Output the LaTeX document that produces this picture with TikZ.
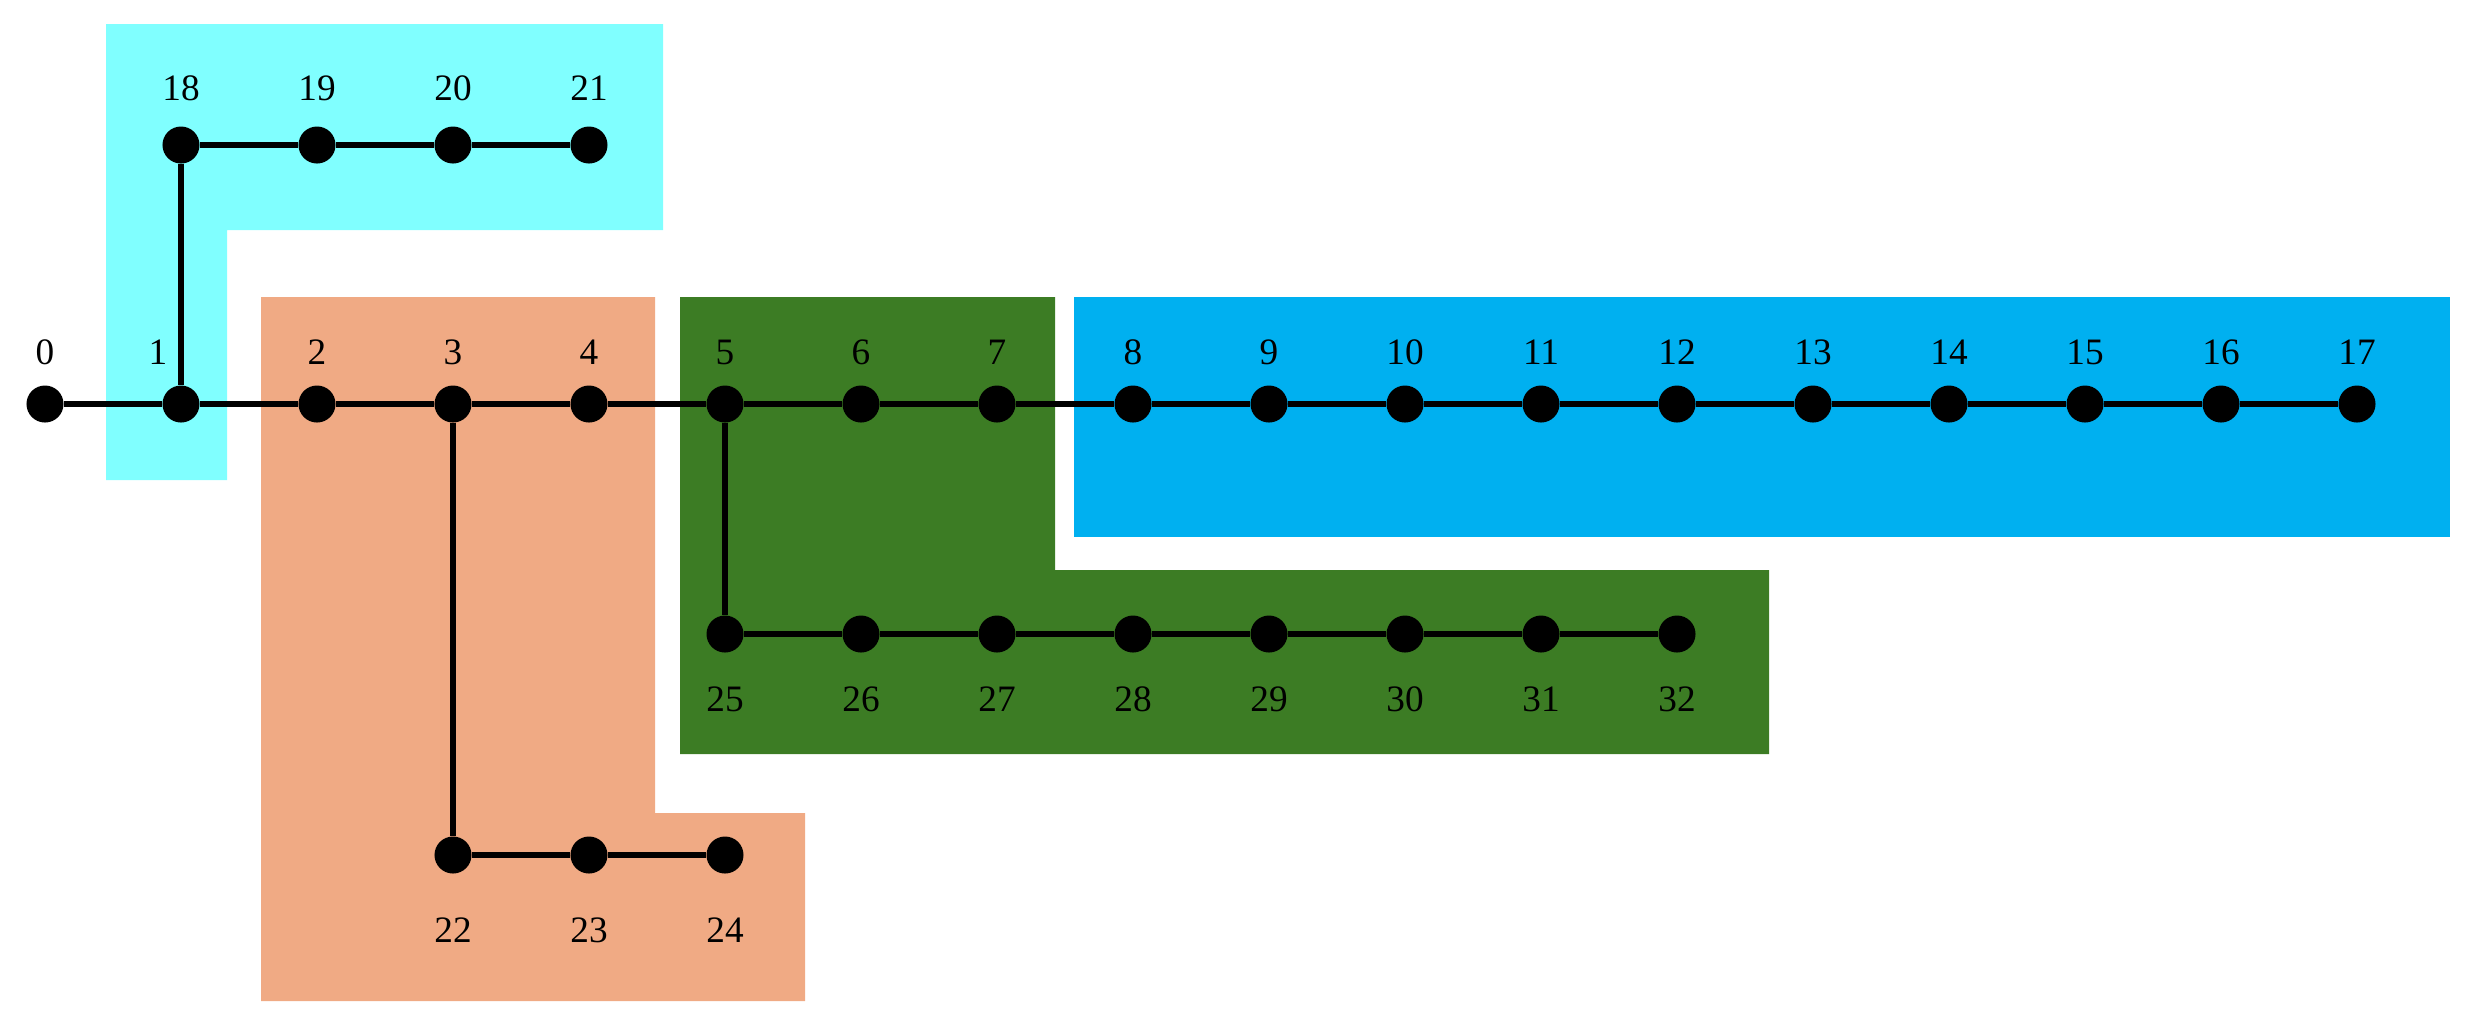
\documentclass[tikz,border=0pt]{standalone}
\usepackage{fontspec}
\setmainfont{Liberation Serif}
\definecolor{cyanreg}{HTML}{80FFFF}
\definecolor{salmonreg}{HTML}{F0AA84}
\definecolor{greenreg}{HTML}{3C7C24}
\definecolor{bluereg}{HTML}{00B0F0}
\begin{document}
\begin{tikzpicture}[x=0.01cm,y=-0.01cm,
  dot/.style={circle,fill=black,inner sep=0pt,minimum size=0.37cm},
  lbl/.style={inner sep=0pt,font=\fontsize{10.6}{12}\selectfont},
  wire/.style={line width=0.06cm}]
\useasboundingbox (0,0) rectangle (2482,1026);
% regions
\fill[cyanreg] (106,24) -- (663,24) -- (663,230) -- (227,230) -- (227,480) -- (106,480) -- cycle;
\fill[salmonreg] (261,297) -- (655,297) -- (655,813) -- (805,813) -- (805,1001) -- (261,1001) -- cycle;
\fill[greenreg] (680,297) -- (1055,297) -- (1055,570) -- (1769,570) -- (1769,754) -- (680,754) -- cycle;
\fill[bluereg] (1074,297) rectangle (2450,537);
% nodes
\foreach \i in {0,...,17} \node[dot] (n\i) at ({45+136*\i},404) {};
\foreach \i in {18,...,21} \node[dot] (n\i) at ({45+136*(\i-17)},145) {};
\foreach \i in {22,23,24} \node[dot] (n\i) at ({45+136*(\i-19)},855) {};
\foreach \i in {25,...,32} \node[dot] (n\i) at ({45+136*(\i-20)},634) {};
% labels
\node[lbl] (l1) at (158,352) {1};
\foreach \i in {0,2,3,...,17} \node[lbl] (l\i) at ({45+136*\i},352) {\i};
\foreach \i in {18,...,21} \node[lbl] (l\i) at ({45+136*(\i-17)},88) {\i};
\foreach \i in {22,23,24} \node[lbl] (l\i) at ({45+136*(\i-19)},930) {\i};
\foreach \i in {25,...,32} \node[lbl] (l\i) at ({45+136*(\i-20)},699) {\i};
% connectors
\foreach \a/\b in {0/1,1/2,2/3,3/4,4/5,5/6,6/7,7/8,8/9,9/10,10/11,11/12,12/13,13/14,14/15,15/16,16/17,
  1/18,18/19,19/20,20/21,3/22,22/23,23/24,5/25,25/26,26/27,27/28,28/29,29/30,30/31,31/32}
  \draw[wire] (n\a) -- (n\b);
\end{tikzpicture}
\end{document}
